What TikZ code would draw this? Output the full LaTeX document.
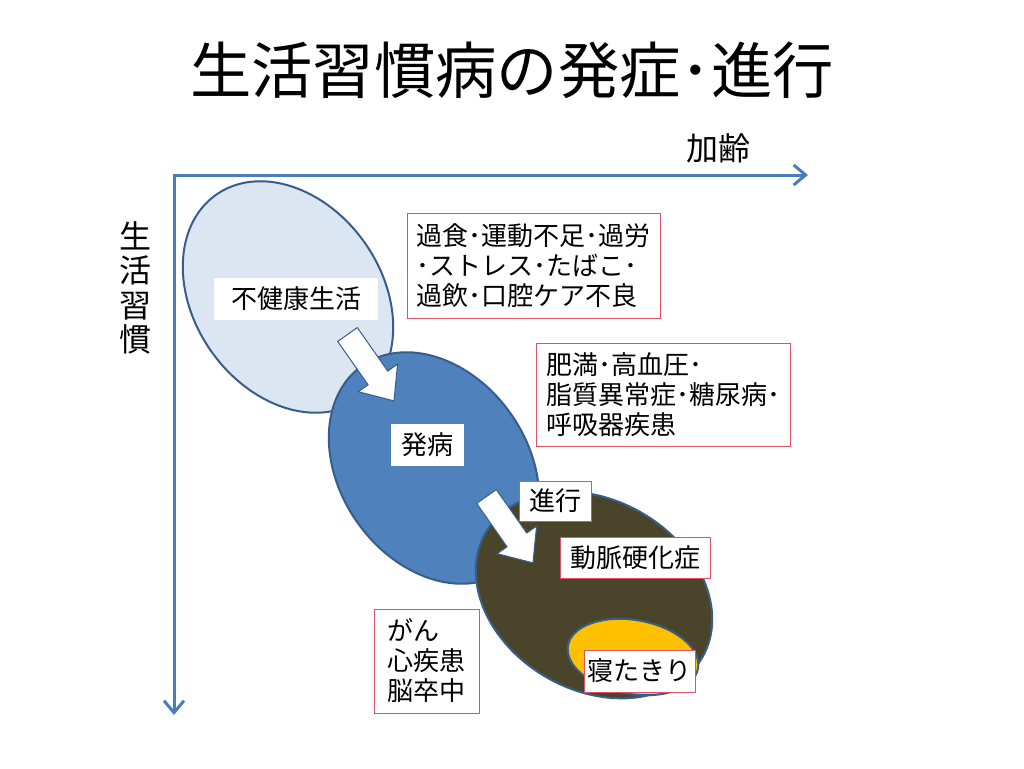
\documentclass[tikz,border=0pt]{standalone}
\usepackage{fontspec}
\setmainfont{Noto Sans CJK JP}
\usetikzlibrary{arrows.meta}
\usetikzlibrary{shapes.geometric}

\definecolor{axisblue}{RGB}{74,126,187}
\definecolor{rimblue}{RGB}{56,93,138}
\definecolor{paleblue}{RGB}{220,230,242}
\definecolor{midblue}{RGB}{79,129,189}
\definecolor{darkolive}{RGB}{74,69,42}
\definecolor{amber}{RGB}{255,192,0}
\definecolor{boxred}{RGB}{226,82,103}

\tikzset{
  stage/.style={ellipse,draw=rimblue,line width=1.5pt,inner sep=0pt},
  redbox/.style={draw=boxred,line width=0.75pt,fill=white,align=left,inner sep=0pt,font=\fontsize{19.5}{22.5}\selectfont},
  whitebox/.style={fill=white,inner sep=0pt,font=\fontsize{19.5}{22.5}\selectfont},
  axis/.style={draw=axisblue,line width=2.25pt,{Straight Barb[length=9pt,width=15pt]}-{Straight Barb[length=9pt,width=15pt]}},
  bigarrow/.style={draw=rimblue,line width=0.75pt,fill=white}
}

\begin{document}
\begin{tikzpicture}[x=0.75pt,y=-0.75pt]
    \useasboundingbox[fill=white] (0,0) rectangle (1024,768);
    \node[font=\fontsize{46}{50}\selectfont] (title) at (512,70) {生活習慣病の発症･進行};

    \coordinate (origin) at (174,175);
    \coordinate (agex) at (808,175);
    \coordinate (habity) at (174,715);
    \draw[axis] (agex) -- (origin) -- (habity);
    \node[font=\fontsize{24}{28}\selectfont] (age) at (718,148) {加齢};
    \node[align=center,font=\fontsize{24}{25.75}\selectfont] (habit) at (135,288) {生\\活\\習\\慣};

    \node[stage,fill=paleblue,minimum width=187.5pt,minimum height=141pt,rotate=-55] (unhealthy) at (288,297) {};
    \node[stage,fill=midblue,minimum width=187.5pt,minimum height=141pt,rotate=-55] (onset) at (434,468) {};
    \begin{scope}[shift={(347.5,334.5)},rotate=-55]
        \draw[bigarrow] (0,12) -- (53,12) -- (53,24) -- (81,0) -- (53,-24) -- (53,-12) -- (0,-12) -- cycle;
    \end{scope}
    \node[stage,fill=darkolive,minimum width=187.5pt,minimum height=142.5pt,rotate=-30] (late) at (594,595) {};
    \node[stage,fill=amber,minimum width=99pt,minimum height=55.5pt,rotate=-10] (bed) at (633,657) {};
    \begin{scope}[shift={(486.5,496.5)},rotate=-55]
        \draw[bigarrow] (0,12) -- (53,12) -- (53,24) -- (81,0) -- (53,-24) -- (53,-12) -- (0,-12) -- cycle;
    \end{scope}

    \node[whitebox,minimum width=123pt,minimum height=31.5pt] (unhealthytag) at (296,299) {不健康生活};
    \node[whitebox,minimum width=54.75pt,minimum height=31.5pt] (onsettag) at (427,445) {発病};
    \node[redbox,minimum width=189.75pt,minimum height=78.75pt] (causes) at (533.5,265.5) {過食･運動不足･過労\\･ストレス･たばこ･\\過飲･口腔ケア不良};
    \node[redbox,minimum width=190.5pt,minimum height=77.25pt] (diseases) at (663,394.5) {肥満･高血圧･\\脂質異常症･糖尿病･\\呼吸器疾患};
    \node[redbox,minimum width=54pt,minimum height=30pt] (progress) at (555,501) {進行};
    \node[redbox,minimum width=112.5pt,minimum height=30.75pt] (sclerosis) at (635,557.5) {動脈硬化症};
    \node[redbox,minimum width=83.25pt,minimum height=31.5pt] (bedridden) at (639.5,671) {寝たきり};
    \node[redbox,minimum width=78.75pt,minimum height=78pt] (fatal) at (426.5,661) {がん\\心疾患\\脳卒中};
\end{tikzpicture}
\end{document}
